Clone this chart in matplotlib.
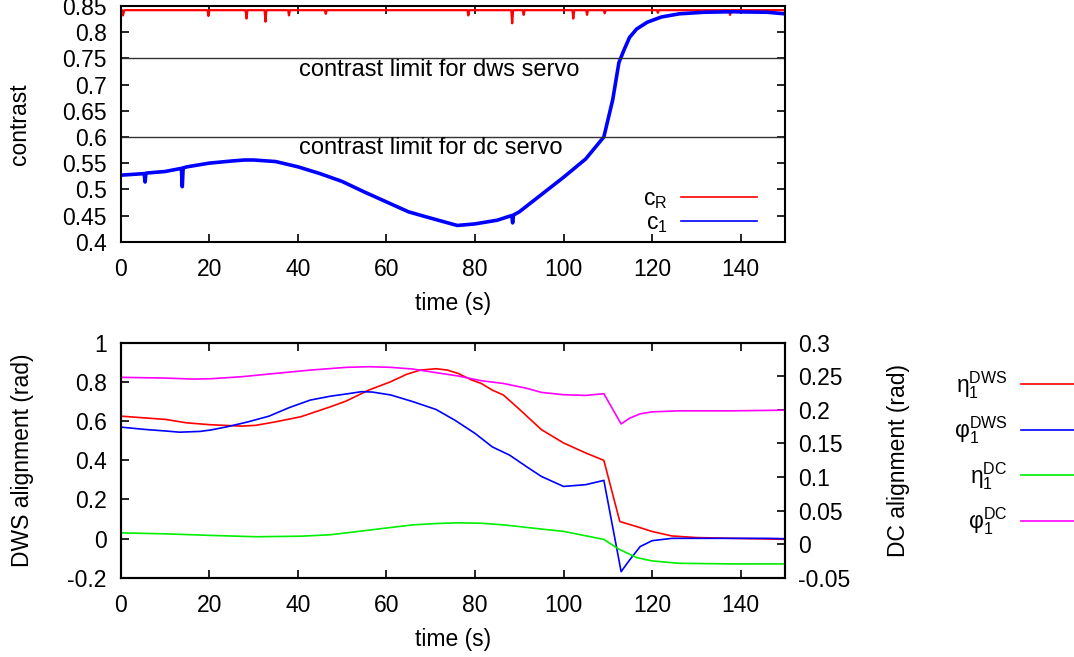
import matplotlib
matplotlib.use("Agg")
import matplotlib.pyplot as plt
from matplotlib.ticker import MultipleLocator, FormatStrFormatter

plt.rcParams['font.family'] = ['Liberation Sans', 'DejaVu Sans']
plt.rcParams['font.size'] = 16.5
plt.rcParams['mathtext.fontset'] = 'custom'
plt.rcParams['mathtext.rm'] = 'Liberation Sans'

# contrast of the reference beam (c_R) and of beam 1 (c_1)
cR_t = [0, 0.3, 0.5, 0.8, 19.6, 19.8, 20.0, 28.2, 28.4, 28.6, 32.5, 32.7, 32.9,
        37.8, 38.0, 38.2, 46.1, 46.3, 46.5, 78.3, 78.5, 78.7, 88.2, 88.4, 88.6,
        90.8, 91.0, 91.2, 102.0, 102.2, 102.4, 105.1, 105.3, 105.5, 109.1, 109.3,
        109.5, 121.1, 121.3, 121.5, 137.4, 137.6, 137.8, 150]
cR_v = [0.842, 0.842, 0.832, 0.842, 0.842, 0.831, 0.842, 0.842, 0.826, 0.842, 0.842, 0.820, 0.842,
        0.842, 0.832, 0.842, 0.842, 0.835, 0.842, 0.842, 0.832, 0.842, 0.842, 0.817, 0.842,
        0.842, 0.833, 0.842, 0.842, 0.826, 0.842, 0.842, 0.833, 0.842, 0.842, 0.836,
        0.842, 0.842, 0.837, 0.842, 0.842, 0.833, 0.842, 0.842]

c1_t = [0, 5.3, 5.5, 5.7, 10, 13.7, 13.9, 14.1, 15, 20, 25, 28, 30, 35, 40, 45, 50, 55,
        60, 65, 70, 76, 80, 85, 88.3, 88.5, 88.7, 90, 95, 100, 105, 109.1, 111.1, 112.5,
        113.7, 114.9, 116.5, 118.9, 122.1, 126.1, 131.6, 138, 146, 150]
c1_v = [0.527, 0.530, 0.514, 0.531, 0.534, 0.540, 0.505, 0.541, 0.543, 0.550, 0.554, 0.556,
        0.556, 0.553, 0.543, 0.530, 0.515, 0.495, 0.476, 0.457, 0.445, 0.431, 0.434, 0.441,
        0.450, 0.436, 0.451, 0.457, 0.490, 0.523, 0.558, 0.600, 0.671, 0.742, 0.767, 0.790,
        0.806, 0.819, 0.829, 0.835, 0.838, 0.839, 0.838, 0.835]

dws_limit = 0.75
dc_limit = 0.6

# DWS alignment signals (left axis)
eta_dws_t = [0, 10.2, 14.8, 20.3, 27.3, 30.5, 35, 40.7, 47.4, 50.9, 56, 61, 64.5, 67.6,
             71.2, 73.8, 76.2, 79.3, 81.4, 83.9, 86.4, 89.4, 95, 100, 105, 109.1, 112.7,
             116.5, 120, 124.5, 130, 138, 150]
eta_dws_v = [0.625, 0.608, 0.591, 0.581, 0.574, 0.578, 0.596, 0.622, 0.673, 0.702, 0.758,
             0.801, 0.838, 0.860, 0.867, 0.860, 0.843, 0.809, 0.792, 0.758, 0.733, 0.673,
             0.556, 0.488, 0.437, 0.399, 0.087, 0.061, 0.036, 0.013, 0.005, 0.001, -0.004]

phi_dws_t = [0, 5.5, 10.2, 13.3, 17.9, 20.3, 24.1, 28.8, 33.5, 38.1, 42.8, 47.4, 50.9, 54.4,
             56.8, 61, 66.1, 71.2, 75.4, 80, 83.9, 87.8, 91.7, 95, 100, 105, 109.1, 113,
             114.9, 117.3, 120, 124.5, 138, 146, 150]
phi_dws_v = [0.569, 0.557, 0.549, 0.543, 0.547, 0.554, 0.571, 0.596, 0.625, 0.669, 0.707,
             0.727, 0.738, 0.750, 0.748, 0.733, 0.698, 0.659, 0.605, 0.537, 0.468, 0.426,
             0.366, 0.317, 0.266, 0.275, 0.297, -0.169, -0.110, -0.041, -0.011, 0.001,
             0.001, 0.001, -0.001]

# DC alignment signals (right axis)
eta_dc_t = [0, 10.2, 20.3, 30.5, 40.7, 47.4, 51, 56, 61, 66, 71.2, 76.2, 81.4, 86.4, 90.2,
            94.6, 100, 109.1, 112.5, 116.5, 120, 126, 138, 150]
eta_dc_v = [0.0168, 0.0153, 0.013, 0.011, 0.0118, 0.014, 0.0168, 0.0208, 0.0248, 0.0287,
            0.0307, 0.0317, 0.0311, 0.0287, 0.026, 0.0227, 0.019, 0.007, -0.0075, -0.020,
            -0.025, -0.0285, -0.0295, -0.0295]

phi_dc_t = [0, 10.2, 16.4, 20.3, 27.3, 35, 42.8, 51, 56, 61, 66, 71.2, 76.2, 81.4, 86.4,
            91.7, 95, 100, 105, 109.1, 113, 114.9, 117.3, 120, 126, 138, 150]
phi_dc_v = [0.2484, 0.2473, 0.2458, 0.2463, 0.2493, 0.2543, 0.2592, 0.2633, 0.2642, 0.2633,
            0.2607, 0.2554, 0.2504, 0.2434, 0.2393, 0.2320, 0.226, 0.2225, 0.2215, 0.224,
            0.179, 0.1875, 0.194, 0.197, 0.1985, 0.1985, 0.1995]


def gnuplot_axes(ax, top=True, right=True):
    for s in ax.spines.values():
        s.set_linewidth(1.5)
    ax.tick_params(direction='in', length=5.5, width=1.2, top=top, right=right)
    ax.tick_params(axis='x', pad=11.5)
    ax.tick_params(axis='y', pad=10.2)


fig = plt.figure(figsize=(10.74, 6.57), dpi=100)

# --- contrast panel ---
ax1 = fig.add_axes([0.1124, 0.6321, 0.6185, 0.3588])
ax1.plot(cR_t, cR_v, color='#ff0000', lw=1.6, label=r'c$_\mathregular{R}$')
ax1.plot(c1_t, c1_v, color='#0000ff', lw=2.6, label=r'c$_\mathregular{1}$')
ax1.axhline(dws_limit, color='#333333', lw=1)
ax1.axhline(dc_limit, color='#333333', lw=1)
ax1.text(40.2, 0.728, 'contrast limit for dws servo', va='center', ha='left', fontsize=17)
ax1.text(40.2, 0.578, 'contrast limit for dc servo', va='center', ha='left', fontsize=17)
ax1.set_xlim(0, 150)
ax1.set_ylim(0.4, 0.85)
ax1.xaxis.set_major_locator(MultipleLocator(20))
ax1.yaxis.set_major_locator(MultipleLocator(0.05))
ax1.yaxis.set_major_formatter(FormatStrFormatter('%g'))
gnuplot_axes(ax1)
ax1.set_xlabel('time (s)')
ax1.xaxis.set_label_coords(0.5, -0.212)
ax1.set_ylabel('contrast')
ax1.yaxis.set_label_coords(-0.135, 0.5)
leg1 = ax1.legend(loc='lower right', bbox_to_anchor=(0.985, -0.048), frameon=False,
                  markerfirst=False, handlelength=3.3, labelspacing=0.0, borderpad=0.3,
                  handletextpad=0.6)
for h in leg1.get_lines():
    h.set_linewidth(1.2)

# --- alignment panel ---
ax2 = fig.add_axes([0.1124, 0.1207, 0.6185, 0.3577])
l1, = ax2.plot(eta_dws_t, eta_dws_v, color='#ff0000', lw=1.2)
l2, = ax2.plot(phi_dws_t, phi_dws_v, color='#0000ff', lw=1.2)
ax2.set_xlim(0, 150)
ax2.set_ylim(-0.2, 1.0)
ax2.xaxis.set_major_locator(MultipleLocator(20))
ax2.yaxis.set_major_locator(MultipleLocator(0.2))
ax2.yaxis.set_major_formatter(FormatStrFormatter('%g'))
gnuplot_axes(ax2, top=True, right=False)
ax2.set_xlabel('time (s)')
ax2.xaxis.set_label_coords(0.5, -0.215)
ax2.set_ylabel('DWS alignment (rad)')
ax2.yaxis.set_label_coords(-0.130, 0.5)

ax3 = ax2.twinx()
l3, = ax3.plot(eta_dc_t, eta_dc_v, color='#00ee00', lw=1.2)
l4, = ax3.plot(phi_dc_t, phi_dc_v, color='#ff00ff', lw=1.2)
ax3.set_ylim(-0.05, 0.3)
ax3.yaxis.set_major_locator(MultipleLocator(0.05))
ax3.yaxis.set_major_formatter(FormatStrFormatter('%g'))
gnuplot_axes(ax3, top=False, right=True)
ax3.tick_params(left=False)
ax3.tick_params(axis='y', pad=9.5)
ax3.set_ylabel('DC alignment (rad)')
ax3.yaxis.set_label_coords(1.154, 0.5)

labels = [r'$\mathregular{η_1^{DWS}}$', r'$\mathregular{φ_1^{DWS}}$',
          r'$\mathregular{η_1^{DC}}$', r'$\mathregular{φ_1^{DC}}$']
fig.legend([l1, l2, l3, l4], labels, loc='upper left', bbox_to_anchor=(0.869, 0.4693),
           frameon=False, markerfirst=False, handlelength=3.6, labelspacing=0.6,
           handletextpad=0.6)

fig.savefig('out.png', dpi=100)
